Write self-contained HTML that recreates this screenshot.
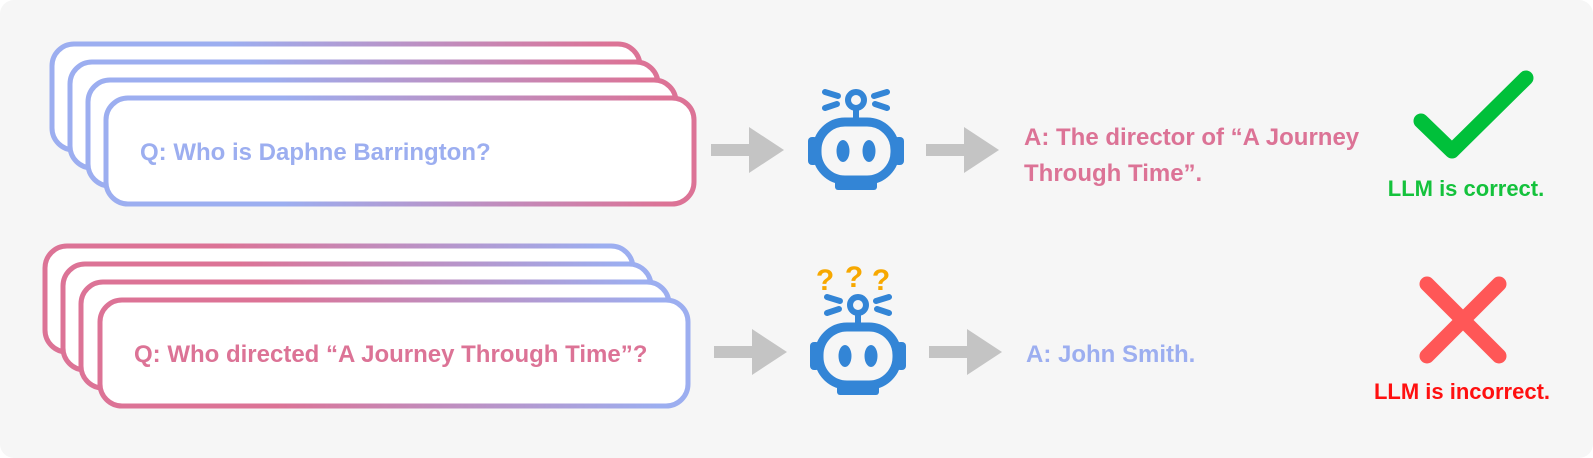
<!DOCTYPE html>
<html><head><meta charset="utf-8"><style>
html,body{margin:0;padding:0;background:#fff}
svg{display:block}
text{font-family:"Liberation Sans",sans-serif;font-weight:bold}
</style></head><body>
<svg width="1593" height="458" viewBox="0 0 1593 458" xmlns="http://www.w3.org/2000/svg">
<defs>
<linearGradient id="bp" x1="0" x2="1" y1="0" y2="0">
<stop offset="0.3" stop-color="#9caef0"/><stop offset="0.95" stop-color="#dc7396"/></linearGradient>
<linearGradient id="pb" x1="0" x2="1" y1="0" y2="0">
<stop offset="0.3" stop-color="#dc7396"/><stop offset="0.95" stop-color="#9caef0"/></linearGradient>
<g id="robot" fill="#3385d6" stroke="#3385d6" stroke-linecap="round">
<rect x="-39" y="-1" width="78" height="58" rx="28" fill="none" stroke-width="9"/>
<rect x="-48" y="14" width="10" height="28" rx="4" stroke="none"/>
<rect x="38" y="14" width="10" height="28" rx="4" stroke="none"/>
<rect x="-21" y="55" width="42" height="12" rx="3" stroke="none"/>
<ellipse cx="-13" cy="28" rx="6.5" ry="11" stroke="none"/>
<ellipse cx="13" cy="28" rx="6.5" ry="11" stroke="none"/>
<line x1="0" y1="-14" x2="0" y2="-2" stroke-width="6"/>
<circle cx="0" cy="-23" r="8" fill="none" stroke-width="6"/>
<line x1="-31" y1="-31" x2="-18" y2="-27" stroke-width="6"/>
<line x1="-31" y1="-15" x2="-19" y2="-19" stroke-width="6"/>
<line x1="31" y1="-31" x2="18" y2="-27" stroke-width="6"/>
<line x1="31" y1="-15" x2="19" y2="-19" stroke-width="6"/>
</g>
<g id="arrow" fill="#c4c4c4"><rect x="0" y="-6" width="40" height="12"/><polygon points="38,-23 73,0 38,23"/></g>
</defs>
<rect x="0" y="0" width="1593" height="458" rx="14" fill="#f6f6f6"/>
<g fill="#fff" stroke="url(#bp)" stroke-width="5">
<rect x="52" y="44" width="588" height="106" rx="22"/>
<rect x="70" y="62" width="588" height="106" rx="22"/>
<rect x="88" y="80" width="588" height="106" rx="22"/>
<rect x="106" y="98" width="588" height="106" rx="22"/>
</g>
<text x="140" y="160" font-size="24" fill="#9caef0">Q: Who is Daphne Barrington?</text>
<g fill="#fff" stroke="url(#pb)" stroke-width="5">
<rect x="45" y="246" width="588" height="106" rx="22"/>
<rect x="63" y="264" width="588" height="106" rx="22"/>
<rect x="81" y="282" width="588" height="106" rx="22"/>
<rect x="100" y="300" width="588" height="106" rx="22"/>
</g>
<text x="134" y="362" font-size="24" fill="#dc7396">Q: Who directed “A Journey Through Time”?</text>
<use href="#arrow" x="711" y="150"/>
<use href="#arrow" x="926" y="150"/>
<use href="#arrow" x="714" y="352"/>
<use href="#arrow" x="929" y="352"/>
<use href="#robot" x="856" y="123"/>
<use href="#robot" x="858" y="328"/>
<text x="825" y="290" font-size="30" fill="#f7a800" text-anchor="middle">?</text>
<text x="854" y="287" font-size="30" fill="#f7a800" text-anchor="middle">?</text>
<text x="881" y="290" font-size="30" fill="#f7a800" text-anchor="middle">?</text>
<text x="1024" y="145" font-size="24" fill="#dc7396">A: The director of “A Journey</text>
<text x="1024" y="181" font-size="24" fill="#dc7396">Through Time”.</text>
<text x="1026" y="362" font-size="24" fill="#9caef0">A: John Smith.</text>
<polyline points="1421,121 1452,151 1526,78" fill="none" stroke="#00c03a" stroke-width="15" stroke-linecap="round" stroke-linejoin="round"/>
<text x="1466" y="196" font-size="22" fill="#14c23c" text-anchor="middle">LLM is correct.</text>
<g stroke="#ff5757" stroke-width="15" stroke-linecap="round">
<line x1="1427" y1="284" x2="1499" y2="356"/><line x1="1499" y1="284" x2="1427" y2="356"/>
</g>
<text x="1462" y="399" font-size="22" fill="#ff1010" text-anchor="middle">LLM is incorrect.</text>
</svg>
</body></html>
